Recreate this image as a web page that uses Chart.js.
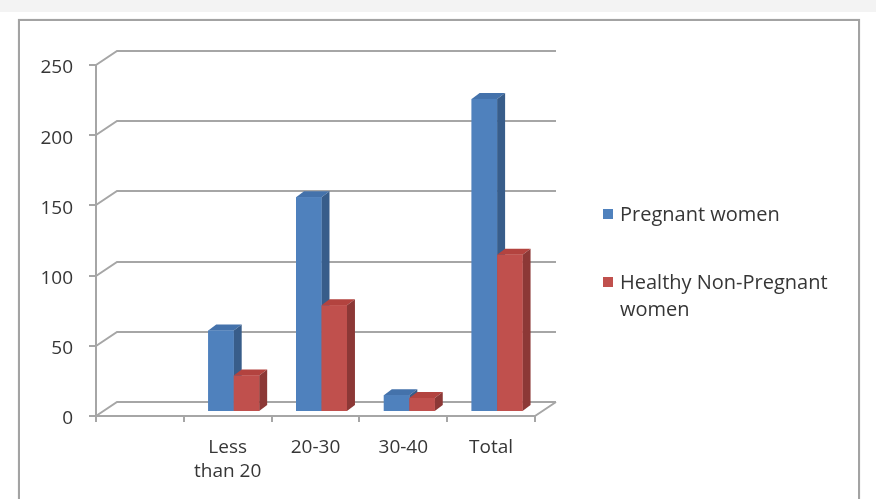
<!DOCTYPE html>
<html>
<head>
<meta charset="utf-8">
<script src="https://cdn.jsdelivr.net/npm/chart.js@4/dist/chart.umd.min.js"></script>
<style>
  html, body { margin: 0; padding: 0; background: #fff; }
  #page { position: relative; width: 876px; height: 499px; overflow: hidden; background: #fff; }
  #band { position: absolute; left: 0; top: 0; width: 876px; height: 12px; background: #f3f3f3; }
  #frame { position: absolute; left: 18px; top: 19px; width: 838px; height: 600px;
           border: 2px solid #a3a3a3; box-shadow: 0 0 1px #d0d0d0; }
  canvas { position: absolute; left: 0; top: 0; }
</style>
</head>
<body>
<div id="page">
  <div id="band"></div>
  <div id="frame"></div>
  <canvas id="chart" width="876" height="499"></canvas>
</div>
<script>
// Age groups (the first slot is an empty category on the floor)
const categories = ['', ['Less', 'than 20'], '20-30', '30-40', 'Total'];
const pregnantWomen = [null, 58, 153, 12, 223];
const healthyNonPregnant = [null, 26, 76, 10, 112];
const seriesNames = ['Pregnant women', 'Healthy Non-Pregnant women'];
const yMin = 0;
const yMax = 250;
const yStep = 50;

// Colours for the faces of each series: front, top, side
const FACES = [
  { front: '#4f81bd', top: '#4472ab', side: '#385d8a' },
  { front: '#c0504d', top: '#b3433f', side: '#8c3836' }
];
const GRID = '#a6a6a6';
const TEXT = '#363636';
const FONT = "'Open Sans', 'DejaVu Sans', sans-serif";

// Perspective offsets: back wall, bar placement inside the floor, bar thickness
const WALL = { dx: 21, dy: -14 };
const BAR_POS = { dx: 6, dy: -4 };
const BAR_DEPTH = { dx: 8, dy: -6 };

const depth3d = {
  id: 'depth3d',
  beforeDatasetsDraw(chart) {
    const { ctx, chartArea: a, scales: { y } } = chart;
    ctx.save();
    ctx.strokeStyle = GRID;
    ctx.lineWidth = 2;
    ctx.beginPath();
    y.ticks.forEach(t => {
      const py = Math.round(y.getPixelForValue(t.value));
      ctx.moveTo(a.left, py);
      ctx.lineTo(a.left + WALL.dx, py + WALL.dy);
      ctx.lineTo(a.right + WALL.dx, py + WALL.dy);
    });
    ctx.moveTo(a.right, a.bottom);
    ctx.lineTo(a.right + WALL.dx, a.bottom + WALL.dy);
    ctx.stroke();
    ctx.restore();
    ctx.save();
    ctx.translate(BAR_POS.dx, BAR_POS.dy);
  },
  afterDatasetsDraw(chart) {
    const ctx = chart.ctx;
    chart.data.datasets.forEach((ds, i) => {
      const meta = chart.getDatasetMeta(i);
      const f = FACES[i];
      meta.data.forEach((bar, j) => {
        if (ds.data[j] == null) return;
        const { x, y, base, width } = bar.getProps(['x', 'y', 'base', 'width'], true);
        const l = x - width / 2, r = x + width / 2;
        // top face
        ctx.fillStyle = f.top;
        ctx.beginPath();
        ctx.moveTo(l, y);
        ctx.lineTo(l + BAR_DEPTH.dx, y + BAR_DEPTH.dy);
        ctx.lineTo(r + BAR_DEPTH.dx, y + BAR_DEPTH.dy);
        ctx.lineTo(r, y);
        ctx.closePath();
        ctx.fill();
        // side face
        ctx.fillStyle = f.side;
        ctx.beginPath();
        ctx.moveTo(r, y);
        ctx.lineTo(r + BAR_DEPTH.dx, y + BAR_DEPTH.dy);
        ctx.lineTo(r + BAR_DEPTH.dx, base + BAR_DEPTH.dy);
        ctx.lineTo(r, base);
        ctx.closePath();
        ctx.fill();
        // front face
        ctx.fillStyle = f.front;
        ctx.fillRect(l, y, width, base - y);
      });
    });
    ctx.restore();
  }
};

// Legend on the right, with wrapping text
const sideLegend = {
  id: 'sideLegend',
  afterDraw(chart) {
    const ctx = chart.ctx;
    const boxX = 603, textX = 620, maxW = 225;
    const rows = [214, 282];
    ctx.save();
    ctx.font = '20px ' + FONT;
    ctx.textBaseline = 'middle';
    ctx.textAlign = 'left';
    chart.data.datasets.forEach((ds, i) => {
      const cy = rows[i];
      ctx.fillStyle = ds.backgroundColor;
      ctx.fillRect(boxX, cy - 5, 10, 10);
      const words = ds.label.split(' ');
      const lines = [];
      let cur = '';
      words.forEach(w => {
        const t = cur ? cur + ' ' + w : w;
        if (ctx.measureText(t).width > maxW && cur) { lines.push(cur); cur = w; }
        else cur = t;
      });
      if (cur) lines.push(cur);
      ctx.fillStyle = TEXT;
      lines.forEach((ln, k) => ctx.fillText(ln, textX, cy + 1 + k * 27));
    });
    ctx.restore();
  }
};

new Chart(document.getElementById('chart'), {
  type: 'bar',
  data: {
    labels: categories,
    datasets: [
      { label: seriesNames[0], data: pregnantWomen, backgroundColor: FACES[0].front },
      { label: seriesNames[1], data: healthyNonPregnant, backgroundColor: FACES[1].front }
    ]
  },
  options: {
    responsive: false,
    animation: false,
    events: [],
    layout: { padding: { left: 0, top: 65, right: 341, bottom: 0 } },
    datasets: { bar: { categoryPercentage: 0.58, barPercentage: 1.0 } },
    plugins: { legend: { display: false }, tooltip: { enabled: false } },
    scales: {
      x: {
        afterFit(s) { s.height = 83; },
        border: { display: true, color: GRID, width: 2 },
        grid: { display: true, drawOnChartArea: false, drawTicks: true, tickLength: 6, color: GRID, lineWidth: 2, offset: true },
        ticks: { color: TEXT, font: { family: FONT, size: 19, lineHeight: 1.3 }, padding: 13, maxRotation: 0, autoSkip: false }
      },
      y: {
        min: yMin, max: yMax,
        afterFit(s) { s.width = 96; },
        border: { display: true, color: GRID, width: 2 },
        grid: { display: true, drawOnChartArea: false, drawTicks: true, tickLength: 7, color: GRID, lineWidth: 2 },
        ticks: { stepSize: yStep, color: TEXT, font: { family: FONT, size: 19 }, padding: 16, labelOffset: 3 }
      }
    }
  },
  plugins: [depth3d, sideLegend]
});
</script>
</body>
</html>
